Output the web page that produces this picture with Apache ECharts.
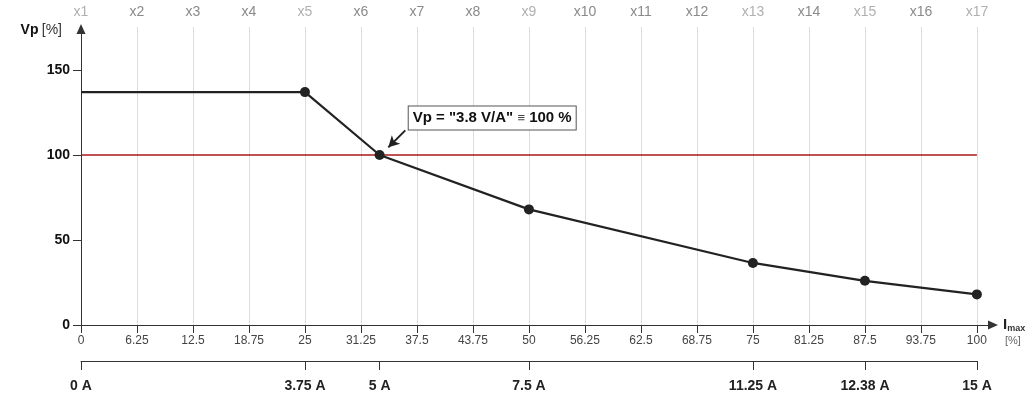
<!DOCTYPE html>
<html>
<head>
<meta charset="utf-8">
<script src="https://cdn.jsdelivr.net/npm/echarts@6/dist/echarts.min.js"></script>
<style>
html,body{margin:0;padding:0;background:#fff;}
#c{width:1030px;height:396px;}
</style>
</head>
<body>
<div id="c"></div>
<script>
// ---- data ----
const xTicks = [0, 6.25, 12.5, 18.75, 25, 31.25, 37.5, 43.75, 50, 56.25, 62.5, 68.75, 75, 81.25, 87.5, 93.75, 100];
const xTickLabels = ['0', '6.25', '12.5', '18.75', '25', '31.25', '37.5', '43.75', '50', '56.25', '62.5', '68.75', '75', '81.25', '87.5', '93.75', '100'];
const topLabels = ['x1', 'x2', 'x3', 'x4', 'x5', 'x6', 'x7', 'x8', 'x9', 'x10', 'x11', 'x12', 'x13', 'x14', 'x15', 'x16', 'x17'];
const topLabelTone = ['lt', 'dk', 'dk', 'dk', 'lt', 'dk', 'dk', 'dk', 'lt', 'dk', 'dk', 'dk', 'lt', 'dk', 'lt', 'dk', 'lt'];
const ampPositions = [0, 25, 33.33, 50, 75, 87.5, 100];
const ampLabels = ['0 A', '3.75 A', '5 A', '7.5 A', '11.25 A', '12.38 A', '15 A'];
const yTicks = [0, 50, 100, 150];
const imaxPct = [0, 25, 33.33, 50, 75, 87.5, 100];
const vpPct = [137, 137, 100, 68, 36.5, 26, 18];
const refLevel = 100;
const refSpan = [0, 100];
const annotationText = ['Vp = "3.8 V/A" ', '\u2261', ' 100 %'];

// ---- chart ----
const FONT = '"Liberation Sans", Arial, Helvetica, sans-serif';
const chart = echarts.init(document.getElementById('c'), null, {renderer: 'canvas'});

const seriesData = imaxPct.map((x, i) => i === 0 ? {value: [x, vpPct[i]], symbol: 'none'} : [x, vpPct[i]]);
const refData = refSpan.map(x => [x, refLevel]);

const option = {
  animation: false,
  backgroundColor: '#fff',
  textStyle: {fontFamily: FONT},
  grid: [
    {left: 81, right: 37, top: 27, bottom: 71, containLabel: false},
    {left: 81, right: 53, top: 27, bottom: 71, containLabel: false}
  ],
  xAxis: [
    {
      gridIndex: 0, type: 'value', min: 0, max: 101.8, position: 'bottom',
      axisLine: {show: true, onZero: false, lineStyle: {color: '#333', width: 1}, symbol: ['none', 'triangle'], symbolSize: [9, 10], symbolOffset: [0, 0]},
      axisTick: {show: true, length: 8, lineStyle: {color: '#333'}, customValues: xTicks},
      axisLabel: {
        customValues: xTicks, margin: 10, color: '#444', fontSize: 12, fontFamily: FONT,
        formatter: v => { const i = xTicks.indexOf(v); return i >= 0 ? xTickLabels[i] : ''; }
      },
      splitLine: {show: false},
      name: '{I|I}{sub|max}\n{p|[%]}',
      nameLocation: 'end', nameGap: 10,
      nameTextStyle: {
        align: 'left', verticalAlign: 'middle', padding: [15, 0, 0, 0],
        rich: {
          I: {fontSize: 15, fontWeight: 'bold', color: '#222', fontFamily: FONT, lineHeight: 16, verticalAlign: 'top'},
          sub: {fontSize: 9, fontWeight: 'bold', color: '#333', fontFamily: FONT, verticalAlign: 'bottom', lineHeight: 16},
          p: {fontSize: 11, color: '#666', fontFamily: FONT, lineHeight: 14, padding: [0, 0, 0, 2]}
        }
      }
    },
    {
      gridIndex: 1, type: 'value', min: 0, max: 100, position: 'bottom', offset: 36,
      axisLine: {show: true, onZero: false, lineStyle: {color: '#333', width: 1}},
      axisTick: {show: true, length: 9, lineStyle: {color: '#333'}, customValues: ampPositions},
      axisLabel: {
        customValues: ampPositions, margin: 18, color: '#222', fontSize: 14, fontWeight: 'bold', fontFamily: FONT,
        formatter: v => { const i = ampPositions.indexOf(v); return i >= 0 ? ampLabels[i] : ''; }
      },
      splitLine: {show: false}
    },
    {
      gridIndex: 1, type: 'value', min: 0, max: 100, interval: 6.25, position: 'top',
      axisLine: {show: false, onZero: false}, axisTick: {show: false},
      axisLabel: {
        margin: 8, fontSize: 14, fontFamily: FONT,
        formatter: v => { const i = Math.round(v / 6.25); return '{' + topLabelTone[i] + '|' + topLabels[i] + '}'; },
        rich: {
          lt: {color: '#b0b0b0', fontSize: 14, fontFamily: FONT},
          dk: {color: '#8a8a8a', fontSize: 14, fontFamily: FONT}
        }
      },
      splitLine: {show: true, lineStyle: {color: '#dcdcdc', width: 1}}
    }
  ],
  yAxis: [
    {
      gridIndex: 0, type: 'value', min: 0, max: 175.3,
      axisLine: {show: true, onZero: false, lineStyle: {color: '#333', width: 1}, symbol: ['none', 'triangle'], symbolSize: [9, 10], symbolOffset: [0, -2]},
      axisTick: {show: true, length: 8, lineStyle: {color: '#333'}, customValues: yTicks},
      axisLabel: {customValues: yTicks, margin: 11, color: '#111', fontSize: 14, fontWeight: 'bold', fontFamily: FONT},
      splitLine: {show: false},
      name: '{b|Vp} {n|[%]}',
      nameLocation: 'end', nameGap: -3,
      nameTextStyle: {
        align: 'right', verticalAlign: 'middle', padding: [0, 19, 0, 0],
        rich: {
          b: {fontSize: 14, fontWeight: 'bold', color: '#111', fontFamily: FONT},
          n: {fontSize: 14, color: '#333', fontFamily: FONT}
        }
      }
    },
    {gridIndex: 1, type: 'value', min: 0, max: 175.3, show: false}
  ],
  series: [
    {
      type: 'line', xAxisIndex: 0, yAxisIndex: 0,
      data: refData,
      symbol: 'none',
      lineStyle: {color: '#a81818', width: 1.4},
      silent: true, z: 3
    },
    {
      type: 'line', xAxisIndex: 0, yAxisIndex: 0,
      data: seriesData,
      symbol: 'circle', symbolSize: 10,
      lineStyle: {color: '#222', width: 2.2},
      itemStyle: {color: '#222'},
      z: 5,
      markLine: {
        silent: true, animation: false,
        label: {show: false},
        lineStyle: {color: '#222', width: 2, type: 'solid'},
        data: [
          [
            {coord: [36.2, 114.5], symbol: 'none'},
            {coord: [34.3, 104.5], symbol: 'arrow', symbolSize: [9, 11]}
          ]
        ]
      },
      markPoint: {
        silent: true, animation: false,
        data: [{
          coord: [45.9, 121.8], symbol: 'rect', symbolSize: 1, itemStyle: {color: 'rgba(0,0,0,0)'},
          label: {
            show: true, position: 'inside',
            formatter: '{b|' + annotationText[0] + '}{e|' + annotationText[1] + '}{b|' + annotationText[2] + '}',
            backgroundColor: '#fff', borderColor: '#555', borderWidth: 1, padding: [4, 4, 4, 4],
            rich: {
              b: {fontSize: 15, fontWeight: 'bold', color: '#111', fontFamily: FONT},
              e: {fontSize: 13, color: '#444', fontFamily: FONT}
            }
          }
        }]
      }
    }
  ]
};
chart.setOption(option);
</script>
</body>
</html>
